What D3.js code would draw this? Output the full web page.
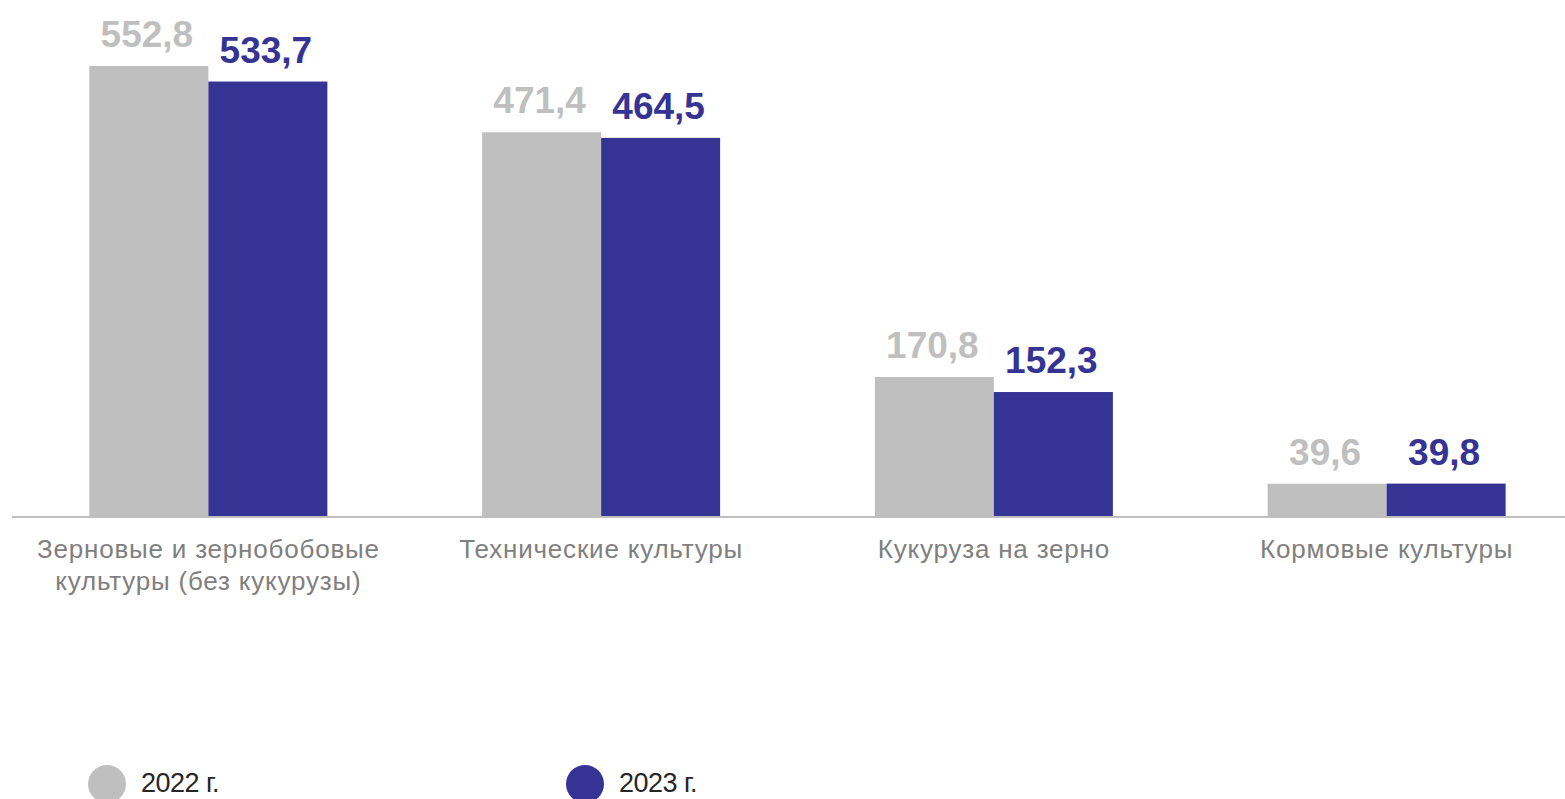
<!DOCTYPE html>
<html>
<head>
<meta charset="utf-8">
<script src="https://cdn.jsdelivr.net/npm/d3@7"></script>
<style>
  body { margin: 0; background: #fff; }
  svg { display: block; font-family: "Liberation Sans", Arial, sans-serif; }
</style>
</head>
<body>
<svg id="chart"></svg>
<script>
// Data
const categories = [
    ["Зерновые и зернобобовые", "культуры (без кукурузы)"],
    ["Технические культуры"],
    ["Кукуруза на зерно"],
    ["Кормовые культуры"]
];
const years = ["2022 г.", "2023 г."];
const values2022 = [552.8, 471.4, 170.8, 39.6];
const values2023 = [533.7, 464.5, 152.3, 39.8];

const colors = ["#bfbfbf", "#353394"];
const width = 1565, height = 799;
const baseY = 516;

const svg = d3.select("#chart")
    .attr("width", width)
    .attr("height", height);

// Scales
const x = d3.scaleBand()
    .domain(d3.range(categories.length))
    .range([12, 1583])
    .paddingInner(0.394)
    .paddingOuter(0.197);

const xInner = d3.scaleBand()
    .domain([0, 1])
    .range([0, x.bandwidth()]);

const y = d3.scaleLinear()
    .domain([0, 552.8])
    .range([baseY, 66]);

const series = [values2022, values2023];

// Bars
series.forEach(function(vals, s) {
    svg.append("g")
        .selectAll("rect")
        .data(vals)
        .enter().append("rect")
        .attr("x", (d, i) => x(i) + xInner(s))
        .attr("y", d => y(d))
        .attr("width", xInner.bandwidth())
        .attr("height", d => baseY - y(d))
        .attr("fill", colors[s]);

    // value labels
    svg.append("g")
        .selectAll("text")
        .data(vals)
        .enter().append("text")
        .attr("x", (d, i) => x(i) + xInner(s) + xInner.bandwidth() / 2 - 2)
        .attr("y", d => y(d) - 19)
        .attr("text-anchor", "middle")
        .attr("font-size", "37px")
        .attr("font-weight", "bold")
        .attr("fill", colors[s])
        .text(d => d.toFixed(1).replace(".", ","));
});

// Axis line
svg.append("line")
    .attr("x1", 12)
    .attr("x2", width)
    .attr("y1", baseY + 1)
    .attr("y2", baseY + 1)
    .attr("stroke", "#bfbfbf")
    .attr("stroke-width", 2);

// Category labels
const catG = svg.append("g");
categories.forEach(function(lines, i) {
    const t = catG.append("text")
        .attr("x", x(i) + x.bandwidth() / 2)
        .attr("y", 558)
        .attr("text-anchor", "middle")
        .attr("font-size", "26px")
        .attr("fill", "#7f7f7f")
        .attr("letter-spacing", "0.8px");
    lines.forEach(function(line, j) {
        t.append("tspan")
            .attr("x", x(i) + x.bandwidth() / 2)
            .attr("dy", j === 0 ? 0 : 32)
            .text(line);
    });
});

// Legend
const legendX = [107, 585];
years.forEach(function(label, i) {
    svg.append("circle")
        .attr("cx", legendX[i])
        .attr("cy", 784)
        .attr("r", 19)
        .attr("fill", colors[i]);
    svg.append("text")
        .attr("x", legendX[i] + 34)
        .attr("y", 792)
        .attr("font-size", "27px")
        .attr("letter-spacing", "-0.5px")
        .attr("fill", "#262626")
        .text(label);
});
</script>
</body>
</html>
